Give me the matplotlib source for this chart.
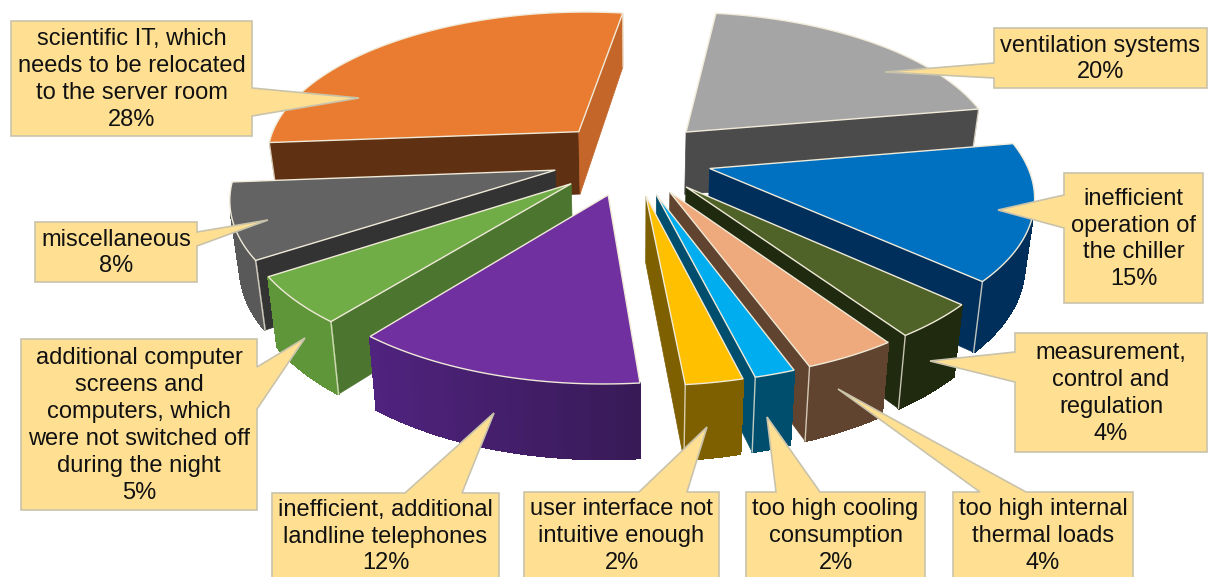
import numpy as np
import matplotlib.colors as mcolors
from matplotlib import pyplot as plt

labels = ["ventilation systems", "inefficient\noperation of\nthe chiller",
          "measurement,\ncontrol and\nregulation", "too high internal\nthermal loads",
          "too high cooling\nconsumption", "user interface not\nintuitive enough",
          "inefficient, additional\nlandline telephones",
          "additional computer\nscreens and\ncomputers, which\nwere not switched off\nduring the night",
          "miscellaneous", "scientific IT, which\nneeds to be relocated\nto the server room"]
# printed percentages, and the unrounded shares
values = [20, 15, 4, 4, 2, 2, 12, 5, 8, 28]
shares = [20, 14.5, 3.7, 3.9, 1.7, 2.4, 12.2, 5, 8, 28.4]

top_colors = ["#a5a5a5", "#0070c0", "#4f6228", "#eea97c", "#00adef", "#ffc000", "#7030a0", "#70ad47", "#636363", "#e97c30"]
side_colors = ["#4b4b4b", "#002f5b", "#1f2a0e", "#61442f", "#004e6e", "#7f6000", "#3a1b5c", "#4c752f", "#333333", "#5f3112"]
# outer face colours, left end and right end
outer_left = ["#6e6e6e", "#002f5b", "#1f2a0e", "#61442f", "#004e6e", "#7f6000", "#50237f", "#5e9639", "#595959", "#5f3112"]
outer_right = ["#4b4b4b", "#002f5b", "#1f2a0e", "#61442f", "#004e6e", "#7f6000", "#381a57", "#5e9639", "#595959", "#5f3112"]
right_face = "#c4662a"

# box (x0, y0, x1, y1), pointer tip, pointer base two points
boxes = [(994, 28, 1207, 88), (1064, 173, 1203, 303), (1015, 333, 1207, 452), (953, 492, 1133, 578),
         (746, 492, 925, 578), (524, 492, 719, 578), (272, 493, 499, 578), (21, 339, 257, 510),
         (35, 222, 197, 282), (11, 21, 252, 136)]
tips = [(885, 72), (998, 210), (930, 361), (838, 389), (767, 417), (707, 427), (494, 413), (305, 338), (268, 220), (359, 98)]
bases = [((994, 63), (994, 78)), ((1064, 195), (1064, 228)), ((1015, 352), (1015, 382)), ((980, 492), (1026, 492)),
         ((776, 492), (820, 492)), ((639, 492), (687, 492)), ((405, 493), (462, 493)), ((257, 367), (257, 409)),
         ((197, 232), (197, 246)), ((252, 88), (252, 116))]

CX, CY = 632, 158
R = 315
EXPLODE = 80
START = 8
K = 0.464
P = 0.1575
H = 64


def project(x, y, z=0.0):
    v = y / R
    s = 1 / (1 - P * v)
    s2 = s * (1 - 0.025 * z)
    return CX + x * s2, CY + K * y * s + z * H * (1 + 0.14 * v)


def poly_area(pts):
    pts = np.array(pts)
    x, y = pts[:, 0], pts[:, 1]
    return np.sum(x * np.roll(y, -1) - np.roll(x, -1) * y) / 2


fig = plt.figure(figsize=(12.08, 5.77), dpi=100)
ax = fig.add_axes([0, 0, 1, 1])
ax.set_xlim(0, 1208)
ax.set_ylim(577, 0)
ax.axis("off")

bounds = START + np.concatenate([[0], np.cumsum(shares)]) * 360 / sum(shares)
mids = (bounds[:-1] + bounds[1:]) / 2
order = np.argsort(-np.cos(np.radians(mids)))
white = "#f0ead8"

for i in order:
    a0, a1 = np.radians(bounds[i]), np.radians(bounds[i + 1])
    mid = np.radians(mids[i])
    ox, oy = EXPLODE * np.sin(mid), -EXPLODE * np.cos(mid)
    th = np.linspace(a0, a1, max(int(values[i] * 3), 8))
    wx = ox + R * np.sin(th)
    wy = oy - R * np.cos(th)
    top_arc = [project(x, y) for x, y in zip(wx, wy)]
    bot_arc = [project(x, y, 1) for x, y in zip(wx, wy)]
    tip = project(ox, oy)
    tip_b = project(ox, oy, 1)

    # radial faces, only the ones that face us
    q0 = [tip, top_arc[0], bot_arc[0], tip_b]
    q1 = [tip, top_arc[-1], bot_arc[-1], tip_b]
    show0 = poly_area(q0) < 0
    show1 = poly_area(q1) > 0
    if show0:
        ax.fill(*zip(*q0), color=side_colors[i], lw=0.5, zorder=1)
    if show1:
        c = right_face if i == 9 else side_colors[i]
        ax.fill(*zip(*q1), color=c, lw=0.5, zorder=1)

    # outer face as small quads for the gradient, no antialias so no seams
    xs = np.array([p[0] for p in top_arc])
    xmin, xmax = xs.min(), xs.max()
    cl = np.array(mcolors.to_rgb(outer_left[i]))
    cr = np.array(mcolors.to_rgb(outer_right[i]))
    for j in range(len(th) - 1):
        q = [top_arc[j], top_arc[j + 1], bot_arc[j + 1], bot_arc[j]]
        if poly_area(q) < 0:
            f = (top_arc[j][0] - xmin) / max(xmax - xmin, 1)
            ax.fill(*zip(*q), color=cl + (cr - cl) * f, lw=1.0, antialiased=False, zorder=1)

    # light line from the arc to the bottom, also under the arc on the front
    if show0:
        ax.plot([top_arc[0][0], bot_arc[0][0]], [top_arc[0][1], bot_arc[0][1]], color=white, lw=1.0, alpha=0.8, zorder=1)
    if show1:
        ax.plot([top_arc[-1][0], bot_arc[-1][0]], [top_arc[-1][1], bot_arc[-1][1]], color=white, lw=1.0, alpha=0.8, zorder=1)

    poly = [tip] + top_arc
    ax.fill(*zip(*poly), facecolor=top_colors[i], edgecolor=white, lw=1.0, zorder=1)

for i in range(len(labels)):
    x0, y0, x1, y1 = boxes[i]
    b0, b1 = bases[i]
    tip = tips[i]
    # walk round the box and step out to the pointer tip
    if b0[0] == x0:
        pts = [(x0, y0), (x1, y0), (x1, y1), (x0, y1), b1, tip, b0]
    elif b0[0] == x1:
        pts = [(x0, y0), (x1, y0), b0, tip, b1, (x1, y1), (x0, y1)]
    else:
        pts = [(x0, y0), b0, tip, b1, (x1, y0), (x1, y1), (x0, y1)]
    ax.fill(*zip(*pts), facecolor="#ffe093", edgecolor="#c9c3ab", lw=1.2, zorder=3)
    ax.text((x0 + x1) / 2, (y0 + y1) / 2 + 1, labels[i] + "\n%d%%" % values[i], ha="center", va="center",
            fontsize=17, family="Liberation Sans", linespacing=1.29, color="#111111", zorder=4)

fig.savefig("out.png", dpi=100)
